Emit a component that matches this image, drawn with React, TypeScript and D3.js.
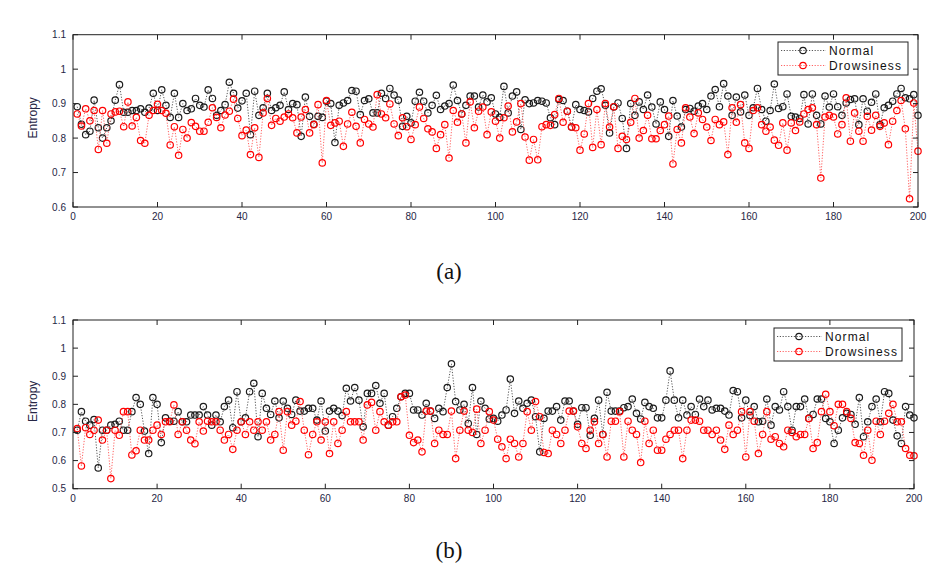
import React from "react";
import * as d3 from "d3";

const xTicks = [0, 20, 40, 60, 80, 100, 120, 140, 160, 180, 200];
const yTicksA = [0.6, 0.7, 0.8, 0.9, 1.0, 1.1];
const yTicksB = [0.5, 0.6, 0.7, 0.8, 0.9, 1.0, 1.1];
const seriesNames = ["Normal", "Drowsiness"];
const captions = ["(a)", "(b)"];

const normalA = [
  0.891, 0.84, 0.81, 0.82, 0.91, 0.83, 0.8, 0.83, 0.85, 0.91,
  0.955, 0.875, 0.875, 0.88, 0.88, 0.885, 0.875, 0.887, 0.93, 0.88,
  0.94, 0.895, 0.86, 0.93, 0.86, 0.9, 0.88, 0.885, 0.915, 0.895,
  0.89, 0.94, 0.915, 0.866, 0.88, 0.897, 0.962, 0.93, 0.887, 0.908,
  0.93, 0.81, 0.936, 0.866, 0.888, 0.93, 0.88, 0.888, 0.895, 0.934,
  0.883, 0.9, 0.897, 0.805, 0.919, 0.863, 0.84, 0.863, 0.86, 0.907,
  0.9, 0.787, 0.895, 0.902, 0.909, 0.938, 0.936, 0.868, 0.909, 0.914,
  0.873, 0.873, 0.93, 0.915, 0.944, 0.925, 0.91, 0.834, 0.863, 0.844,
  0.907, 0.933, 0.907, 0.873, 0.895, 0.924, 0.883, 0.893, 0.9, 0.954,
  0.909, 0.87, 0.895, 0.922, 0.922, 0.89, 0.925, 0.905, 0.917, 0.87,
  0.86, 0.95, 0.873, 0.922, 0.934, 0.825, 0.911, 0.9, 0.902, 0.909,
  0.907, 0.902, 0.859, 0.839, 0.912, 0.909, 0.878, 0.832, 0.897, 0.883,
  0.88, 0.876, 0.915, 0.936, 0.943, 0.895, 0.815, 0.89, 0.902, 0.857,
  0.77, 0.9, 0.866, 0.905, 0.883, 0.925, 0.89, 0.841, 0.905, 0.883,
  0.805, 0.909, 0.864, 0.832, 0.883, 0.886, 0.878, 0.893, 0.9, 0.883,
  0.922, 0.941, 0.891, 0.958, 0.922, 0.866, 0.919, 0.876, 0.925, 0.866,
  0.888, 0.944, 0.883, 0.849, 0.88, 0.957, 0.886, 0.891, 0.928, 0.863,
  0.861, 0.857, 0.926, 0.841, 0.928, 0.866, 0.841, 0.922, 0.89, 0.928,
  0.891, 0.866, 0.902, 0.912, 0.914, 0.839, 0.914, 0.878, 0.904, 0.928,
  0.839, 0.888, 0.895, 0.907, 0.928, 0.944, 0.917, 0.914, 0.926, 0.866,
];

const drowsyA = [
  0.87, 0.835, 0.885, 0.85, 0.88, 0.767, 0.88, 0.785, 0.87, 0.876,
  0.878, 0.833, 0.905, 0.835, 0.86, 0.793, 0.785, 0.866, 0.88, 0.898,
  0.88, 0.872, 0.78, 0.833, 0.75, 0.825, 0.8, 0.845, 0.834, 0.82,
  0.82, 0.846, 0.888, 0.86, 0.83, 0.867, 0.878, 0.913, 0.857, 0.807,
  0.823, 0.752, 0.83, 0.744, 0.873, 0.915, 0.837, 0.857, 0.849, 0.861,
  0.87, 0.859, 0.815, 0.861, 0.883, 0.815, 0.839, 0.897, 0.728, 0.909,
  0.837, 0.844, 0.849, 0.776, 0.841, 0.875, 0.834, 0.786, 0.854, 0.841,
  0.832, 0.926, 0.87, 0.859, 0.899, 0.841, 0.807, 0.859, 0.833, 0.796,
  0.839, 0.89, 0.857, 0.827, 0.818, 0.77, 0.81, 0.839, 0.742, 0.88,
  0.846, 0.87, 0.786, 0.905, 0.83, 0.878, 0.89, 0.81, 0.876, 0.849,
  0.8, 0.859, 0.893, 0.818, 0.847, 0.9, 0.803, 0.736, 0.796, 0.737,
  0.833, 0.839, 0.837, 0.868, 0.915, 0.846, 0.878, 0.832, 0.83, 0.765,
  0.812, 0.9, 0.773, 0.883, 0.781, 0.9, 0.832, 0.891, 0.77, 0.805,
  0.796, 0.846, 0.915, 0.8, 0.822, 0.866, 0.798, 0.798, 0.822, 0.839,
  0.864, 0.725, 0.825, 0.786, 0.888, 0.861, 0.813, 0.873, 0.854, 0.832,
  0.793, 0.854, 0.839, 0.847, 0.752, 0.888, 0.846, 0.897, 0.786, 0.77,
  0.88, 0.888, 0.839, 0.82, 0.832, 0.794, 0.779, 0.844, 0.765, 0.844,
  0.822, 0.847, 0.87, 0.883, 0.888, 0.839, 0.684, 0.861, 0.866, 0.861,
  0.812, 0.839, 0.917, 0.791, 0.873, 0.82, 0.791, 0.863, 0.823, 0.866,
  0.834, 0.844, 0.781, 0.849, 0.88, 0.909, 0.827, 0.624, 0.902, 0.762,
];

const normalB = [
  0.708, 0.774, 0.74, 0.726, 0.746, 0.574, 0.708, 0.708, 0.726, 0.729,
  0.74, 0.708, 0.708, 0.774, 0.824, 0.8, 0.705, 0.625, 0.824, 0.8,
  0.664, 0.752, 0.74, 0.74, 0.774, 0.738, 0.738, 0.762, 0.762, 0.762,
  0.792, 0.762, 0.726, 0.762, 0.738, 0.792, 0.815, 0.717, 0.845, 0.738,
  0.752, 0.845, 0.875, 0.685, 0.839, 0.786, 0.764, 0.812, 0.752, 0.812,
  0.786, 0.764, 0.815, 0.776, 0.776, 0.786, 0.786, 0.744, 0.812, 0.705,
  0.776, 0.786, 0.776, 0.76, 0.857, 0.812, 0.86, 0.815, 0.72, 0.839,
  0.839, 0.867, 0.804, 0.839, 0.726, 0.756, 0.786, 0.827, 0.839, 0.839,
  0.78, 0.78, 0.762, 0.804, 0.776, 0.75, 0.786, 0.774, 0.86, 0.944,
  0.81, 0.78, 0.8, 0.732, 0.86, 0.693, 0.812, 0.786, 0.748, 0.75,
  0.74, 0.762, 0.78, 0.89, 0.768, 0.812, 0.786, 0.804, 0.815, 0.756,
  0.631, 0.75, 0.776, 0.776, 0.792, 0.744, 0.812, 0.812, 0.776, 0.729,
  0.788, 0.788, 0.69, 0.75, 0.815, 0.693, 0.843, 0.776, 0.776, 0.776,
  0.788, 0.792, 0.819, 0.768, 0.748, 0.807, 0.792, 0.786, 0.752, 0.752,
  0.815, 0.919, 0.815, 0.752, 0.815, 0.762, 0.792, 0.764, 0.819, 0.792,
  0.815, 0.78, 0.786, 0.786, 0.776, 0.762, 0.849, 0.845, 0.752, 0.815,
  0.76, 0.792, 0.738, 0.74, 0.819, 0.726, 0.792, 0.78, 0.845, 0.792,
  0.708, 0.792, 0.792, 0.819, 0.75, 0.764, 0.819, 0.819, 0.75, 0.738,
  0.661, 0.708, 0.752, 0.768, 0.764, 0.729, 0.824, 0.685, 0.738, 0.792,
  0.819, 0.738, 0.845, 0.839, 0.744, 0.688, 0.661, 0.792, 0.762, 0.752,
];

const drowsyB = [
  0.714, 0.581, 0.717, 0.693, 0.708, 0.744, 0.673, 0.708, 0.536, 0.708,
  0.69, 0.774, 0.774, 0.62, 0.635, 0.708, 0.673, 0.673, 0.708, 0.726,
  0.693, 0.738, 0.738, 0.798, 0.693, 0.738, 0.708, 0.673, 0.66, 0.738,
  0.705, 0.74, 0.738, 0.738, 0.708, 0.673, 0.693, 0.64, 0.708, 0.738,
  0.693, 0.738, 0.708, 0.738, 0.708, 0.738, 0.673, 0.693, 0.774, 0.637,
  0.774, 0.726, 0.74, 0.81, 0.708, 0.621, 0.693, 0.738, 0.673, 0.738,
  0.625, 0.738, 0.661, 0.708, 0.774, 0.738, 0.738, 0.738, 0.673, 0.798,
  0.807, 0.708, 0.774, 0.738, 0.726, 0.738, 0.738, 0.827, 0.833, 0.69,
  0.664, 0.673, 0.631, 0.776, 0.776, 0.661, 0.708, 0.693, 0.693, 0.776,
  0.607, 0.708, 0.776, 0.708, 0.7, 0.783, 0.661, 0.708, 0.774, 0.744,
  0.676, 0.649, 0.607, 0.676, 0.661, 0.613, 0.661, 0.774, 0.708, 0.81,
  0.756, 0.629, 0.625, 0.708, 0.693, 0.661, 0.708, 0.776, 0.776, 0.72,
  0.661, 0.643, 0.708, 0.738, 0.661, 0.693, 0.613, 0.74, 0.74, 0.774,
  0.613, 0.74, 0.708, 0.693, 0.593, 0.74, 0.661, 0.708, 0.637, 0.637,
  0.676, 0.693, 0.708, 0.708, 0.607, 0.708, 0.744, 0.744, 0.74, 0.708,
  0.708, 0.693, 0.708, 0.673, 0.64, 0.726, 0.693, 0.708, 0.774, 0.613,
  0.774, 0.74, 0.625, 0.693, 0.774, 0.676, 0.685, 0.661, 0.649, 0.708,
  0.7, 0.685, 0.693, 0.693, 0.75, 0.643, 0.664, 0.774, 0.836, 0.774,
  0.724, 0.8, 0.8, 0.774, 0.75, 0.664, 0.661, 0.619, 0.708, 0.601,
  0.74, 0.693, 0.74, 0.768, 0.8, 0.738, 0.738, 0.643, 0.619, 0.617,
];

const BLACK = "#1c1c1c";
const RED = "#ff0000";
const TXT = "#262645";

type PanelProps = {
  left: number; right: number; top: number; bottom: number;
  yMin: number; yTicks: number[];
  normal: number[]; drowsy: number[];
  legend: { x: number; y: number; w: number; h: number };
  caption: string; capX: number; capY: number;
};

function Panel(p: PanelProps) {
  const x = d3.scaleLinear().domain([0, 200]).range([p.left, p.right]);
  const y = d3.scaleLinear().domain([p.yMin, 1.1]).range([p.bottom, p.top]);
  const line = d3.line<number>().x((_, i) => x(i + 1)).y((d) => y(d));
  const tl = 5;
  const fmt = (v: number) => (Math.abs(v - 1) < 1e-9 ? "1" : d3.format(".1f")(v));
  const series = [
    { data: p.normal, color: BLACK, lineColor: "#444", name: seriesNames[0] },
    { data: p.drowsy, color: RED, lineColor: "#ff5050", name: seriesNames[1] },
  ];
  const lg = p.legend;
  return (
    <g>
      {series.map((s, k) => (
        <g key={k}>
          <path d={line(s.data) || ""} fill="none" stroke={s.lineColor} strokeWidth={0.9} strokeDasharray="1.2,1.6" />
          {s.data.map((v, i) => (
            <circle key={i} cx={x(i + 1)} cy={y(v)} r={3.2} fill="none" stroke={s.color} strokeWidth={1.2} />
          ))}
        </g>
      ))}
      <rect x={p.left} y={p.top} width={p.right - p.left} height={p.bottom - p.top} fill="none" stroke="#222" strokeWidth={1} />
      {xTicks.map((t) => (
        <g key={"x" + t}>
          <line x1={x(t)} x2={x(t)} y1={p.bottom} y2={p.bottom - tl} stroke="#222" />
          <line x1={x(t)} x2={x(t)} y1={p.top} y2={p.top + tl} stroke="#222" />
          <text x={x(t)} y={p.bottom + 13} textAnchor="middle" fontSize={10} fontFamily="Liberation Sans, Arial, sans-serif" fill={TXT}>{t}</text>
        </g>
      ))}
      {p.yTicks.map((t) => (
        <g key={"y" + t}>
          <line x1={p.left} x2={p.left + tl} y1={y(t)} y2={y(t)} stroke="#222" />
          <line x1={p.right} x2={p.right - tl} y1={y(t)} y2={y(t)} stroke="#222" />
          <text x={p.left - 7} y={y(t) + 3.5} textAnchor="end" fontSize={10} fontFamily="Liberation Sans, Arial, sans-serif" fill={TXT}>{fmt(t)}</text>
        </g>
      ))}
      <text transform={`translate(${p.left - 36},${(p.top + p.bottom) / 2 - 3}) rotate(-90)`} textAnchor="middle" fontSize={12} fontFamily="Liberation Sans, Arial, sans-serif" fill={TXT}>Entropy</text>
      <rect x={lg.x} y={lg.y} width={lg.w} height={lg.h} fill="#fff" stroke="#222" strokeWidth={1} />
      {series.map((s, k) => {
        const ry = lg.y + 8.5 + k * 15;
        return (
          <g key={"lg" + k}>
            <line x1={lg.x + 3} x2={lg.x + 48} y1={ry} y2={ry} stroke={s.lineColor} strokeWidth={0.9} strokeDasharray="1.2,1.6" />
            <circle cx={lg.x + 25} cy={ry} r={3.2} fill="none" stroke={s.color} strokeWidth={1.2} />
            <text x={lg.x + 51} y={ry + 4} fontSize={12} letterSpacing={1.1} fontFamily="Liberation Sans, Arial, sans-serif" fill="#111">{s.name}</text>
          </g>
        );
      })}
      <text x={p.capX} y={p.capY} textAnchor="middle" fontSize={23} fontFamily="Liberation Serif, Times New Roman, serif" fill="#111">{p.caption}</text>
    </g>
  );
}

export default function App() {
  return (
    <svg width={940} height={570} style={{ position: "absolute", left: 0, top: 0, background: "#fff" }}>
      <rect x={0} y={0} width={940} height={570} fill="#fff" />
      <Panel left={73} right={918} top={34.7} bottom={207} yMin={0.6} yTicks={yTicksA}
        normal={normalA} drowsy={drowsyA}
        legend={{ x: 778, y: 42, w: 130, h: 33 }}
        caption={captions[0]} capX={449} capY={279} />
      <Panel left={73} right={914} top={320} bottom={488.7} yMin={0.5} yTicks={yTicksB}
        normal={normalB} drowsy={drowsyB}
        legend={{ x: 774, y: 328, w: 128, h: 33 }}
        caption={captions[1]} capX={449} capY={558} />
    </svg>
  );
}
